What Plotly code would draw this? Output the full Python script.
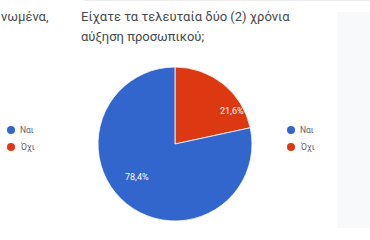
import plotly.graph_objects as go

# Data
categories = ["Ναι", "Όχι"]
counts = [29, 8]
colors = ["#3366CC", "#DC3912"]
title_lines = ["Είχατε τα τελευταία δύο (2) χρόνια", "αύξηση προσωπικού;"]
left_title_fragment = "νωμένα,"
left_legend_labels = ["Ναι", "Όχι"]

total = sum(counts)
pct_text = [f"{c / total * 100:.1f}".replace(".", ",") + "%" for c in counts]

W, H = 370, 240

def px_x(x):
    return x / W

def px_y(y):
    return 1 - y / H

fig = go.Figure()
# drawn with "Όχι" first so that it starts at 12 o'clock going clockwise
fig.add_trace(go.Pie(
    labels=categories[::-1],
    values=counts[::-1],
    textinfo="none",
    marker=dict(colors=colors[::-1], line=dict(color="white", width=0.8)),
    sort=False,
    direction="clockwise",
    rotation=0,
    showlegend=False,
    hoverinfo="label+percent",
    domain=dict(x=[px_x(98), px_x(252)], y=[px_y(221), px_y(67)]),
))

shapes = []
annotations = []

# slice labels (text from data)
label_pos = [(137, 177), (232, 111)]
for txt, (lx, ly) in zip(pct_text, label_pos):
    annotations.append(dict(text=txt, xref="paper", yref="paper",
                            x=px_x(lx), y=px_y(ly), xanchor="center", yanchor="middle",
                            showarrow=False, font=dict(family="Roboto", size=9, color="white")))

# right-side grey card
shapes.append(dict(type="rect", xref="paper", yref="paper",
                   x0=px_x(337), x1=px_x(372), y0=px_y(228), y1=px_y(12),
                   fillcolor="#F8F9FA", line=dict(width=0), layer="below"))
# faint top border line
shapes.append(dict(type="line", xref="paper", yref="paper",
                   x0=px_x(84), x1=px_x(370), y0=px_y(0.5), y1=px_y(0.5),
                   line=dict(color="#EEEEEE", width=1)))

# titles
for i, line in enumerate(title_lines):
    annotations.append(dict(text=line, xref="paper", yref="paper",
                            x=px_x(79), y=px_y(17 + i * 20), xanchor="left", yanchor="middle",
                            showarrow=False, font=dict(family="Roboto", size=13, color="#45494E")))
annotations.append(dict(text=left_title_fragment, xref="paper", yref="paper",
                        x=px_x(-1), y=px_y(17), xanchor="left", yanchor="middle",
                        showarrow=False, font=dict(family="Roboto", size=13, color="#45494E")))

# legends (circle markers + labels)
def add_legend(x_dot, labels):
    for i, lab in enumerate(labels):
        yc = 130 + i * 17
        r = 4
        shapes.append(dict(type="circle", xref="paper", yref="paper",
                           x0=px_x(x_dot - r), x1=px_x(x_dot + r),
                           y0=px_y(yc + r), y1=px_y(yc - r),
                           fillcolor=colors[i], line=dict(width=0)))
        annotations.append(dict(text=lab, xref="paper", yref="paper",
                                x=px_x(x_dot + 7), y=px_y(yc), xanchor="left", yanchor="middle",
                                showarrow=False, font=dict(family="Roboto", size=8.5, color="#5F6368")))

add_legend(11, left_legend_labels)
add_legend(291, categories)

fig.update_layout(
    width=W, height=H,
    margin=dict(l=0, r=0, t=0, b=0),
    paper_bgcolor="white",
    plot_bgcolor="white",
    shapes=shapes,
    annotations=annotations,
)

fig.write_html("out.html")
